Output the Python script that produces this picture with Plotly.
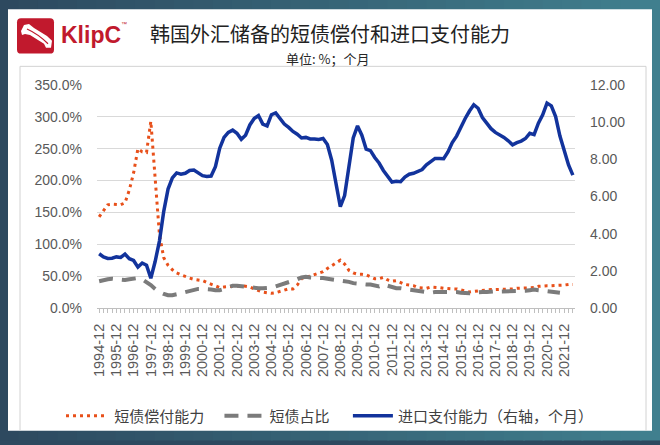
import plotly.graph_objects as go

# ---------------- data ----------------
quarters = []
for yr in range(1994, 2023):
    for mo in ("03", "06", "09", "12"):
        lab = f"{yr}-{mo}"
        if "1994-12" <= lab <= "2022-06":
            quarters.append(lab)

tick_text = [q if q.endswith("-12") else "" for q in quarters]

# 短债偿付能力 (%), left axis
coverage = [143, 153, 162, 163, 163, 162, 165, 185, 212, 250,
            245, 244, 293, 205, 115, 79, 67, 60, 55, 52,
            49, 47, 45, 44, 43, 40, 37, 34, 32, 33,
            34, 34, 34, 35, 34, 33, 30, 27, 25, 24,
            23, 24, 26, 28, 30, 30, 36, 46, 49, 50,
            52, 54, 57, 62, 66, 71, 75, 69, 59, 55,
            53, 53, 52, 49, 46, 46, 48, 44, 42, 43,
            40, 37, 36, 35, 32, 31, 31, 33, 33, 32,
            31, 30, 30, 30, 28, 27, 25, 26, 27, 28,
            29, 29, 29, 29, 29, 29, 30, 31, 31, 32,
            32, 32, 34, 35, 35, 35, 35, 35, 36, 37,
            37]

# 短债占比 (%), left axis
st_share = [42, 44, 45, 46, 45, 45, 44, 45, 46, 47,
            45, 41, 36, 30, 25, 22, 20, 20, 21, 23,
            25, 27, 29, 30, 30, 30, 29, 28, 28, 30,
            33, 35, 35, 34, 34, 33, 31, 31, 31, 31,
            32, 34, 36, 38, 40, 43, 45, 48, 49, 48,
            48, 47, 47, 46, 45, 44, 44, 43, 41, 39,
            38, 38, 37, 37, 35, 34, 37, 35, 33, 31,
            31, 30, 29, 27, 26, 25, 24, 24, 25, 25,
            25, 26, 26, 25, 24, 23, 23, 24, 25, 25,
            25, 26, 26, 26, 26, 26, 26, 26, 26, 27,
            28, 29, 28, 27, 26, 26, 25, 24, None, None,
            None]

# 进口支付能力 (months), right axis
import_cover = [2.92, 2.75, 2.67, 2.68, 2.75, 2.72, 2.90, 2.65, 2.56, 2.20,
                2.42, 2.30, 1.60, 2.50, 3.60, 5.20, 6.40, 7.00, 7.27, 7.20,
                7.25, 7.40, 7.42, 7.25, 7.12, 7.08, 7.10, 7.60, 8.60, 9.18,
                9.45, 9.57, 9.40, 9.08, 9.30, 9.85, 10.20, 10.36, 9.90, 9.80,
                10.40, 10.50, 10.20, 9.90, 9.72, 9.50, 9.35, 9.15, 9.18, 9.10,
                9.10, 9.07, 9.12, 8.80, 7.95, 6.70, 5.45, 6.05, 7.70, 9.15,
                9.80, 9.30, 8.55, 8.47, 8.10, 7.80, 7.40, 7.05, 6.78, 6.82,
                6.80, 7.05, 7.20, 7.25, 7.33, 7.45, 7.70, 7.88, 8.05, 8.05,
                8.03, 8.40, 8.90, 9.25, 9.75, 10.20, 10.60, 10.94, 10.75, 10.25,
                9.95, 9.65, 9.45, 9.33, 9.18, 9.00, 8.78, 8.90, 8.98, 9.12,
                9.40, 9.33, 9.95, 10.40, 11.03, 10.88, 10.30, 9.25, 8.40, 7.70,
                7.15]

left_ticks = [0, 50, 100, 150, 200, 250, 300, 350]
left_labels = ["0.0%", "50.0%", "100.0%", "150.0%", "200.0%", "250.0%", "300.0%", "350.0%"]
right_ticks = [0, 2, 4, 6, 8, 10, 12]
right_labels = ["0.00", "2.00", "4.00", "6.00", "8.00", "10.00", "12.00"]

# ---------------- geometry helpers (pixel -> paper) ----------------
W, H = 660, 445
PL, PR, PT, PB = 97, 575, 85, 312


def X(px):
    return (px - PL) / (PR - PL)


def Y(py):
    return (PB - py) / (PB - PT)


LAT = "Liberation Sans, Arial, Noto Sans CJK SC, sans-serif"
CJK = "Noto Sans CJK SC, Liberation Sans, sans-serif"

ORANGE = "#e8501a"
GRAY = "#7b7b7b"
BLUE = "#12339c"
NB = "\u00a0"

fig = go.Figure()
fig.add_trace(go.Scatter(x=quarters, y=coverage, name=NB + "短债偿付能力" + NB * 3, mode="lines",
                         line=dict(color=ORANGE, width=3, dash="3px,4px"), yaxis="y"))
fig.add_trace(go.Scatter(x=quarters, y=st_share, name="短债占比" + NB * 4, mode="lines",
                         line=dict(color=GRAY, width=4, dash="14px,9px"), yaxis="y"))
fig.add_trace(go.Scatter(x=quarters, y=import_cover, name="进口支付能力（右轴，个月）", mode="lines",
                         line=dict(color=BLUE, width=3.5), yaxis="y2"))

shapes = []
# background gradient strips
c0 = (45, 73, 95)
c1 = (64, 127, 142)
n = 34
for k in range(n):
    t = k / (n - 1)
    col = tuple(round(c0[i] + (c1[i] - c0[i]) * t) for i in range(3))
    x0 = k * W / n
    shapes.append(dict(type="rect", xref="paper", yref="paper", layer="below",
                       x0=X(x0 - 1), x1=X(x0 + W / n + 1), y0=Y(-2), y1=Y(H + 2),
                       fillcolor=f"rgb{col}", line=dict(width=0)))
# white panel
shapes.append(dict(type="rect", xref="paper", yref="paper", layer="below",
                   x0=X(8), x1=X(652), y0=Y(437), y1=Y(8),
                   fillcolor="white", line=dict(width=0)))
# chart frame
frame = f"M {X(20)},{Y(437)} L {X(20)},{Y(66)} L {X(646)},{Y(66)} L {X(646)},{Y(437)}"
shapes.append(dict(type="path", xref="paper", yref="paper", layer="below", path=frame,
                   line=dict(color="#d2d2d2", width=1)))


def rrect(x0, y0, x1, y1, r):
    return (f"M {X(x0 + r)},{Y(y0)} L {X(x1 - r)},{Y(y0)} Q {X(x1)},{Y(y0)} {X(x1)},{Y(y0 + r)} "
            f"L {X(x1)},{Y(y1 - r)} Q {X(x1)},{Y(y1)} {X(x1 - r)},{Y(y1)} "
            f"L {X(x0 + r)},{Y(y1)} Q {X(x0)},{Y(y1)} {X(x0)},{Y(y1 - r)} "
            f"L {X(x0)},{Y(y0 + r)} Q {X(x0)},{Y(y0)} {X(x0 + r)},{Y(y0)} Z")


shapes.append(dict(type="path", xref="paper", yref="paper", path=rrect(17, 17, 54, 53, 4),
                   fillcolor="#c1192d", line=dict(width=0)))
ribbon = [(21, 30), (24, 24), (29, 23), (34, 27), (47, 35), (52, 40), (51, 47),
          (46, 47), (44, 43), (30, 34), (25, 33), (22, 34)]
rp = "M " + " L ".join(f"{X(a)},{Y(b)}" for a, b in ribbon) + " Z"
shapes.append(dict(type="path", xref="paper", yref="paper", path=rp,
                   fillcolor="white", line=dict(width=0)))
rl = f"M {X(27)},{Y(28)} Q {X(38)},{Y(33)} {X(48)},{Y(43)}"
shapes.append(dict(type="path", xref="paper", yref="paper", path=rl,
                   line=dict(color="#c1192d", width=1.2)))

annotations = [
    dict(text="<b>KlipC</b>", x=X(90.5), y=Y(34), xref="paper", yref="paper", showarrow=False,
         font=dict(family=LAT, size=23, color="#c1192d"), xanchor="center", yanchor="middle"),
    dict(text="™", x=X(124), y=Y(23), xref="paper", yref="paper", showarrow=False,
         font=dict(family=LAT, size=6, color="#c1192d"), xanchor="center", yanchor="middle"),
    dict(text="韩国外汇储备的短债偿付和进口支付能力", x=X(330), y=Y(33), xref="paper", yref="paper",
         showarrow=False, font=dict(family=CJK, size=20, color="#222222"),
         xanchor="center", yanchor="middle"),
    dict(text="单位: %；个月", x=X(328), y=Y(58), xref="paper", yref="paper",
         showarrow=False, font=dict(family=CJK, size=13, color="#262626"),
         xanchor="center", yanchor="middle"),
]

fig.update_layout(
    width=W, height=H,
    margin=dict(l=PL, r=W - PR, t=PT, b=H - PB, pad=0),
    paper_bgcolor="rgb(45,73,95)",
    plot_bgcolor="rgba(0,0,0,0)",
    shapes=shapes,
    annotations=annotations,
    showlegend=True,
    legend=dict(orientation="h", x=X(61), y=Y(422), xanchor="left", yanchor="middle",
                font=dict(family=CJK, size=15, color="#404040"), bgcolor="rgba(0,0,0,0)",
                itemwidth=40, tracegroupgap=0),
    xaxis=dict(type="category", categoryorder="array", categoryarray=quarters,
               range=[-0.5, len(quarters) - 0.5],
               tickmode="array", tickvals=quarters, ticktext=tick_text,
               tickangle=-90, ticks="outside", ticklen=4, tickcolor="#bfbfbf",
               showline=True, linecolor="#bfbfbf", linewidth=1, showgrid=False,
               ticklabelstandoff=5,
               tickfont=dict(family=LAT, size=14.5, color="#595959")),
    yaxis=dict(range=[0, 350], tickmode="array", tickvals=left_ticks, ticktext=left_labels,
               showgrid=True, gridcolor="#d9d9d9",
               gridwidth=1, zeroline=False, showline=False, ticks="",
               ticklabelstandoff=14,
               tickfont=dict(family=LAT, size=14, color="#595959")),
    yaxis2=dict(range=[0, 12], tickmode="array", tickvals=right_ticks, ticktext=right_labels,
                overlaying="y", side="right", showgrid=False, zeroline=False,
                showline=False, ticks="", ticklabelstandoff=14,
                tickfont=dict(family=LAT, size=14, color="#595959")),
)

fig.write_html("out.html")
